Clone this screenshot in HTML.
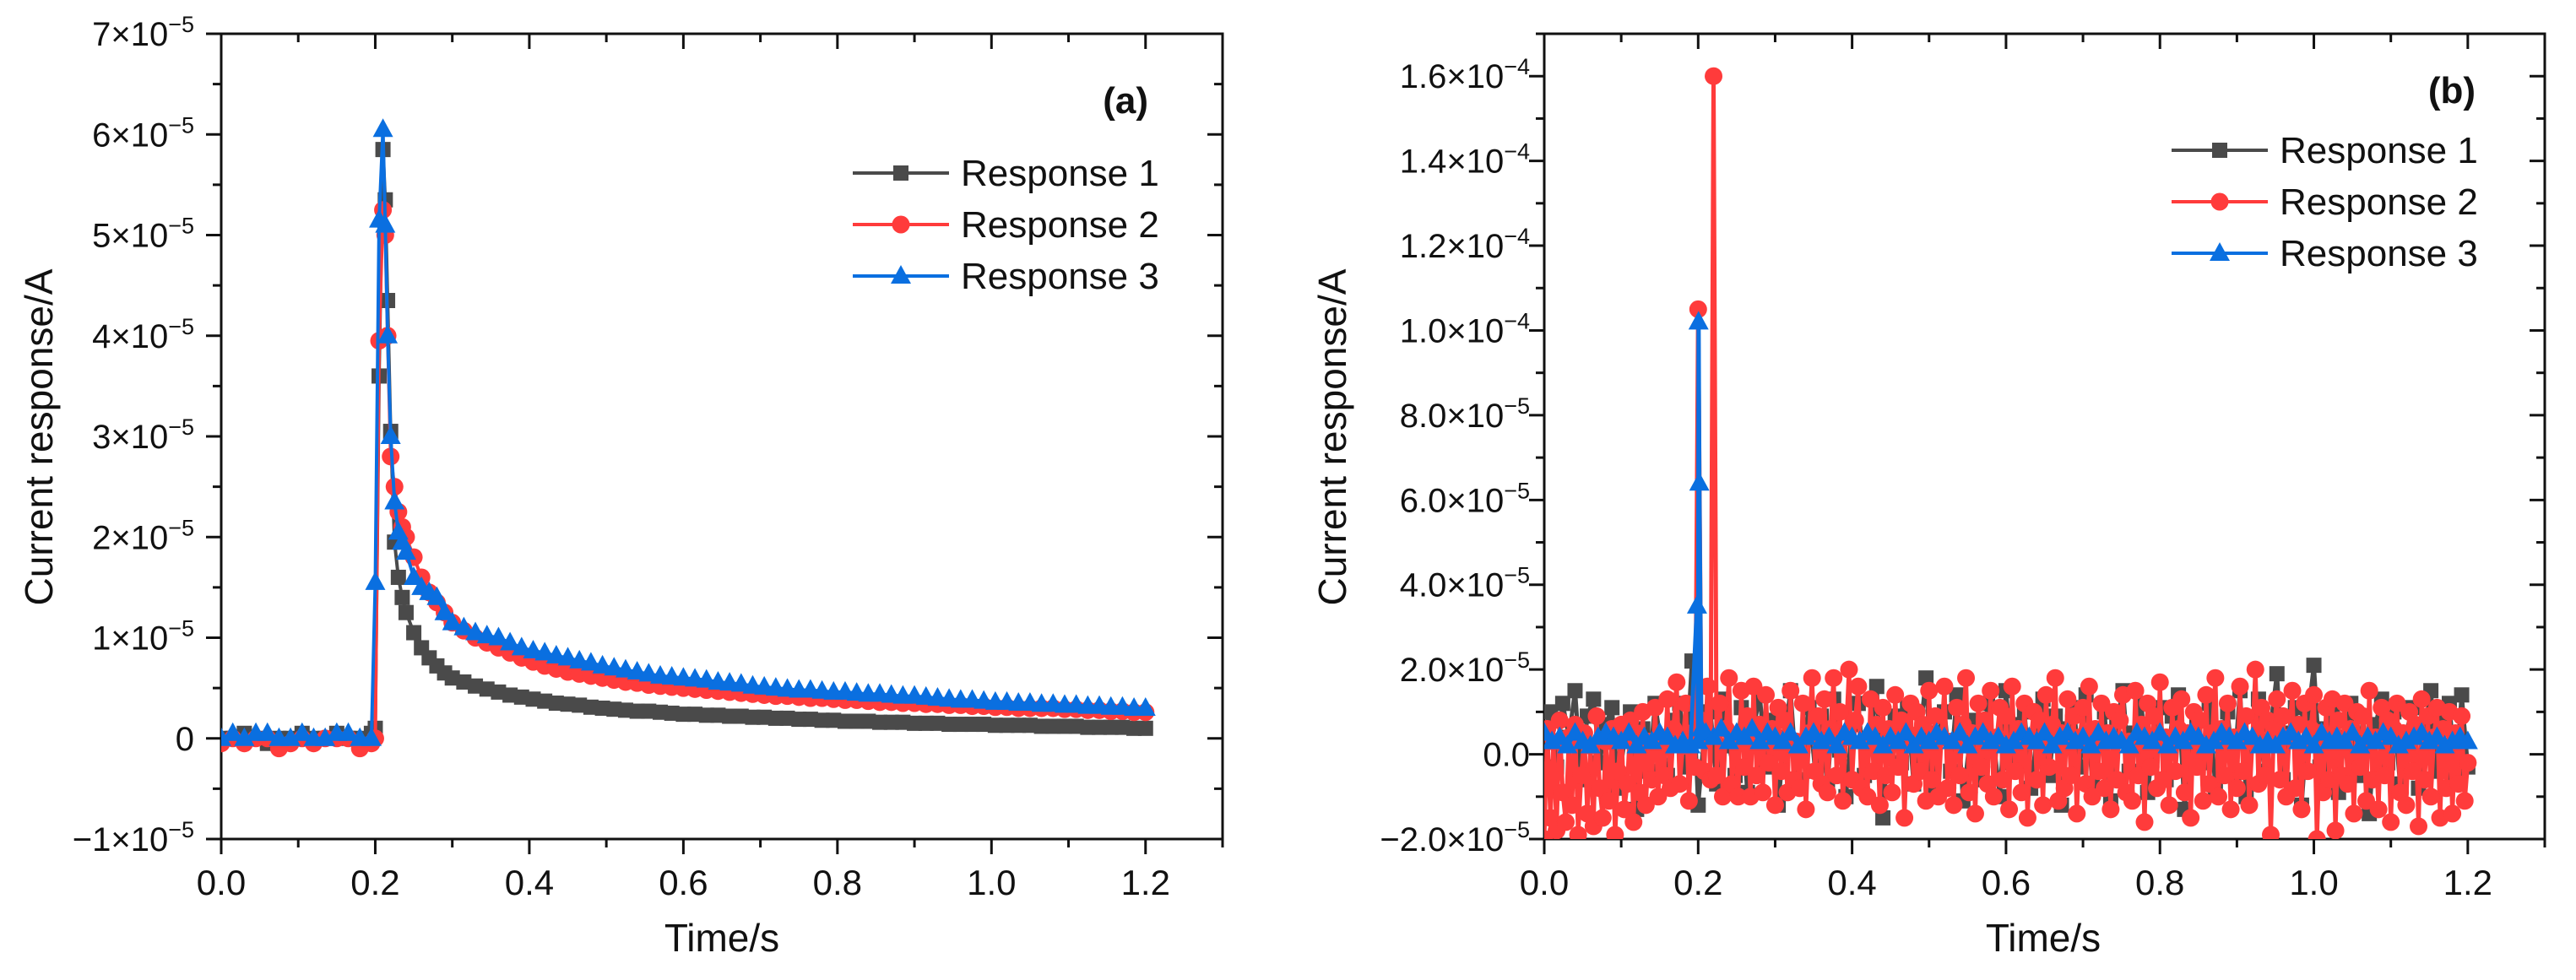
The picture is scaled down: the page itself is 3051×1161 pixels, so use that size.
<!DOCTYPE html>
<html><head><meta charset="utf-8"><style>
html,body{margin:0;padding:0;background:#fff;}
svg{display:block;font-family:"Liberation Sans",Arial,sans-serif;}
</style></head>
<body>
<svg id="fig" width="3051" height="1161" viewBox="0 0 3051 1161" xmlns="http://www.w3.org/2000/svg"></svg>
<script>
// ===== Panel (a) data (units 1e-5 A) =====
const timeA = [0,0.015,0.03,0.045,0.06,0.075,0.09,0.105,0.12,0.135,0.15,0.165,0.18,0.195,0.2,0.205,0.21,0.213,0.216,0.22,0.225,0.23,0.235,0.24,0.25,0.26,0.27,0.28,0.29,0.3,
0.315,0.33,0.345,0.36,0.375,0.39,0.405,0.42,0.435,0.45,0.465,0.48,0.495,0.51,0.525,0.54,0.555,0.57,0.585,0.6,0.615,0.63,0.645,0.66,0.675,0.69,0.705,0.72,0.735,0.75,
0.765,0.78,0.795,0.81,0.825,0.84,0.855,0.87,0.885,0.9,0.915,0.93,0.945,0.96,0.975,0.99,1.005,1.02,1.035,1.05,1.065,1.08,1.095,1.11,1.125,1.14,1.155,1.17,1.185,1.2];
const respA1 = [0,0,0.05,0,-0.05,0,0,0.05,0,0,0.05,0,0,0.05,0.1,3.6,5.85,5.35,4.35,3.05,1.95,1.6,1.4,1.25,1.05,0.9,0.8,0.72,0.65,0.6,
0.56,0.52,0.49,0.46,0.43,0.41,0.39,0.37,0.35,0.34,0.33,0.31,0.3,0.29,0.28,0.27,0.27,0.26,0.25,0.24,0.24,0.23,0.23,0.22,0.22,0.21,0.21,0.2,0.2,0.19,
0.19,0.18,0.18,0.17,0.17,0.17,0.16,0.16,0.16,0.15,0.15,0.15,0.14,0.14,0.14,0.14,0.13,0.13,0.13,0.13,0.12,0.12,0.12,0.12,0.11,0.11,0.11,0.11,0.1,0.1];
const respA2 = [-0.05,0,-0.05,0,0,-0.1,-0.05,0,-0.05,0,0,0,-0.1,-0.05,0,3.95,5.25,5.0,4.0,2.8,2.5,2.25,2.1,2.0,1.8,1.6,1.45,1.35,1.25,1.15,
1.07,1.0,0.95,0.9,0.85,0.8,0.76,0.72,0.69,0.66,0.64,0.62,0.6,0.58,0.56,0.55,0.53,0.52,0.51,0.5,0.49,0.48,0.47,0.46,0.45,0.44,0.43,0.42,0.42,0.41,
0.4,0.4,0.39,0.38,0.38,0.37,0.36,0.36,0.35,0.35,0.34,0.34,0.33,0.33,0.32,0.32,0.31,0.31,0.3,0.3,0.3,0.3,0.29,0.29,0.28,0.28,0.27,0.27,0.26,0.26];
const respA3 = [0,0.05,0,0.05,0.05,0,0,0.05,0,0,0.05,0.05,0,0,1.55,5.15,6.05,5.1,4.0,3.0,2.35,2.05,1.95,1.85,1.6,1.5,1.45,1.4,1.25,1.15,
1.1,1.05,1.02,1.0,0.95,0.9,0.87,0.85,0.82,0.8,0.77,0.75,0.72,0.7,0.68,0.66,0.64,0.62,0.61,0.6,0.59,0.58,0.56,0.55,0.54,0.52,0.51,0.5,0.49,0.48,
0.48,0.47,0.46,0.46,0.45,0.44,0.44,0.43,0.42,0.42,0.41,0.4,0.39,0.38,0.38,0.37,0.36,0.36,0.35,0.35,0.34,0.34,0.33,0.33,0.32,0.32,0.31,0.31,0.3,0.3];
const yTicksA = [-1,0,1,2,3,4,5,6,7];
const yTickLabelsA = ["\u22121\u00d710","0","1\u00d710","2\u00d710","3\u00d710","4\u00d710","5\u00d710","6\u00d710","7\u00d710"];
const xTicks = [0,0.2,0.4,0.6,0.8,1.0,1.2];
const xTickLabels = ["0.0","0.2","0.4","0.6","0.8","1.0","1.2"];

// ===== Panel (b) data (units 1e-5 A) =====
const stepB1 = 0.008, stepB2 = 0.004, stepB3 = 0.01;
const respB1 = [0.5,1.0,-0.3,1.2,0.4,1.5,-0.6,0.9,1.3,-0.2,
0.7,1.1,-0.8,0.3,1.0,-1.3,0.6,-0.4,1.2,0.2,
-0.5,0.8,1.2,-0.3,2.2,-1.2,0.5,1.0,-0.7,1.3,
0.2,-0.5,1.1,-0.9,0.6,1.4,-0.3,0.8,-1.2,0.4,
1.5,-0.6,0.2,1.1,-0.4,0.9,-0.8,1.3,0.1,-1.0,
0.7,1.2,-0.5,0.3,1.6,-1.5,0.6,0.9,-0.2,1.1,
-0.7,0.4,1.8,-0.9,0.5,1.0,-0.4,1.4,-1.1,0.2,
0.8,-0.6,1.2,0.3,-1.0,1.5,-0.2,0.7,1.0,-0.8,
0.4,1.3,-0.5,0.9,-1.2,0.6,1.1,-0.3,1.4,-0.7,
0.2,1.0,-1.1,0.8,1.5,-0.4,0.5,1.2,-0.9,0.3,
1.1,-0.6,0.9,1.4,-1.3,0.4,0.8,-0.2,1.2,-0.8,
0.6,1.0,-0.5,1.5,-1.0,0.3,1.3,-0.4,0.7,1.9,
-0.6,0.5,1.1,-1.2,0.8,2.1,-0.3,0.6,1.0,-0.9,
0.4,1.2,-0.5,0.9,-1.4,0.7,1.3,-0.2,1.0,-0.7,
0.5,1.1,-0.8,0.6,1.5,-0.4,0.8,1.2,-0.6,1.4,
-0.3];
const respB2 = [-2.0,0.6,-1.5,0.3,-1.8,0.8,-0.9,-1.6,0.4,-1.2,
0.7,-1.9,-0.5,0.5,-1.4,0.2,-1.7,0.9,-0.8,-1.5,
0.3,-1.1,0.6,-1.9,-0.4,0.7,-1.3,-0.7,0.8,-1.6,
0.5,-0.9,1.0,-1.2,0.3,-0.6,1.1,-1.0,0.4,-0.5,
1.3,-0.8,0.6,1.7,-0.7,0.2,1.2,-1.1,0.5,-0.3,
10.5,0.8,-0.4,1.6,-0.6,16.0,-0.5,1.2,-1.0,0.6,
1.8,-0.7,0.4,-1.0,1.5,-0.3,0.9,-1.0,1.6,-0.5,
0.7,-0.9,1.4,-0.2,0.6,-1.2,1.1,-0.4,0.8,-0.9,
1.5,-0.6,0.3,-0.8,1.2,-1.3,0.5,1.8,-0.4,0.9,
-0.7,1.3,-0.9,0.6,1.8,-0.5,1.0,-1.1,0.4,2.0,
-0.6,0.8,1.6,-0.8,0.3,-1.0,1.3,-0.4,0.7,-1.2,
1.1,-0.5,0.6,-0.9,1.4,-0.3,0.8,-1.5,0.5,1.2,
-0.7,1.0,-0.4,0.7,-1.1,1.5,-0.6,0.9,-1.0,0.4,
1.6,-0.8,0.3,-1.2,1.1,-0.5,0.7,1.8,-0.9,0.5,
-1.4,1.2,-0.3,0.8,-0.7,1.5,-1.0,0.4,1.1,-0.6,
0.9,-1.3,1.6,-0.4,0.6,-0.9,1.2,-1.5,0.3,1.0,
-0.6,0.8,-1.2,1.4,-0.3,0.7,1.8,-1.1,0.5,-0.8,
1.3,-0.5,0.9,-1.4,0.4,1.1,-0.7,1.6,-1.0,0.6,
-0.4,1.2,-0.8,0.5,-1.3,1.0,-0.6,0.8,1.4,-0.9,
0.3,-1.1,1.5,-0.5,0.7,-1.6,1.2,-0.3,0.9,-0.8,
1.7,-0.6,0.4,-1.2,1.1,-0.4,0.6,1.3,-0.9,0.5,
-1.5,1.0,-0.3,0.8,-1.1,1.4,-0.7,0.5,1.8,-1.0,
0.6,-0.5,1.2,-1.3,0.4,-0.8,1.6,-0.4,0.9,-1.2,
0.3,2.0,-0.7,1.1,-0.5,0.8,-1.9,0.6,1.3,-0.6,
0.9,-1.0,0.4,1.5,-0.8,0.7,-1.3,1.2,-0.4,0.6,
1.4,-2.0,0.5,-0.9,1.1,-0.6,1.3,-1.8,0.8,-0.5,
1.2,-0.7,0.6,-1.4,1.0,-0.3,0.9,-1.1,1.5,-0.6,
0.4,-1.3,1.1,-0.5,0.8,-1.6,0.6,1.2,-0.9,0.5,
-1.2,1.0,-0.4,0.7,-1.7,1.3,-0.6,0.9,-1.0,0.4,
1.1,-1.5,0.6,-0.8,1.0,-1.4,0.5,-0.7,0.9,-1.1,
-0.2];
const respB3 = [0.5,0.3,0.4,0.2,0.5,0.3,0.2,0.4,0.5,0.4,
0.3,0.5,0.2,0.4,0.3,0.5,0.4,0.2,0.3,0.2,
0.3,0.5,0.4,0.6,0.3,0.5,0.4,0.6,0.3,0.5,
0.4,0.3,0.5,0.2,0.4,0.5,0.3,0.4,0.2,0.5,
0.4,0.3,0.5,0.4,0.2,0.4,0.3,0.5,0.2,0.4,
0.3,0.5,0.4,0.3,0.5,0.2,0.4,0.5,0.3,0.4,
0.2,0.3,0.5,0.4,0.3,0.5,0.2,0.4,0.5,0.3,
0.4,0.2,0.5,0.3,0.4,0.3,0.2,0.5,0.4,0.3,
0.5,0.2,0.4,0.3,0.5,0.4,0.2,0.3,0.5,0.4,
0.3,0.5,0.4,0.2,0.3,0.2,0.4,0.5,0.3,0.4,
0.2,0.5,0.3,0.4,0.3,0.5,0.2,0.4,0.3,0.5,
0.4,0.2,0.3,0.4,0.5,0.3,0.4,0.2,0.3,0.4,
0.3];
const spikeB3Time = [0.1985,0.2005,0.2015,0.204];
const spikeB3Val = [3.5,10.2,6.4,0.6];
const yTicksB = [-2,0,2,4,6,8,10,12,14,16];
const yTickLabelsB = ["\u22122.0\u00d710","0.0","2.0\u00d710","4.0\u00d710","6.0\u00d710","8.0\u00d710","1.0\u00d710","1.2\u00d710","1.4\u00d710","1.6\u00d710"];
const yTickExpB = ["\u22125","","\u22125","\u22125","\u22125","\u22125","\u22124","\u22124","\u22124","\u22124"];

const NS = "http://www.w3.org/2000/svg";
const svg = document.getElementById("fig");
function mk(tag, attrs, parent){const e=document.createElementNS(NS,tag);for(const k in attrs)e.setAttribute(k,attrs[k]);(parent||svg).appendChild(e);return e;}

const COLORS = ["#4a4a4a","#ff3b3b","#0a6fe0"];

function makeAxes(L,R,T,B,xmax,ymin,ymax){
  const sx = v => L + v/xmax*(R-L);
  const sy = v => B - (v-ymin)/(ymax-ymin)*(B-T);
  return {sx,sy};
}

function marker(g,type,x,y,color,name){
  let e;
  if(type===0){e=mk("rect",{x:x-9,y:y-9,width:18,height:18,fill:color},g);}
  else if(type===1){e=mk("circle",{cx:x,cy:y,r:10.5,fill:color},g);}
  else {e=mk("polygon",{points:`${x},${y-13} ${x+12},${y+9} ${x-12},${y+9}`,fill:color},g);}
  
  
}

function drawFrame(p, L,R,T,B, ax, xmax, yMajors, yMinorStep, ymin, ymax){
  const g = mk("g",{});
  
  
  mk("rect",{x:L,y:T,width:R-L,height:B-T,fill:"none",stroke:"#111",'stroke-width':3},g);
  for(let v=0; v<=xmax+1e-9; v+=0.1){
    const x=ax.sx(v); const major = Math.abs(v/0.2-Math.round(v/0.2))<1e-6;
    const len = major?18:10;
    mk("line",{x1:x,y1:B,x2:x,y2:B+len,stroke:"#111",'stroke-width':3},g);
    mk("line",{x1:x,y1:T,x2:x,y2:T+len,stroke:"#111",'stroke-width':3},g);
  }
  for(let v=ymin; v<=ymax+1e-9; v+=yMinorStep){
    const y=ax.sy(v); const major = yMajors.some(m=>Math.abs(m-v)<1e-6);
    const len = major?18:10;
    mk("line",{x1:L-len,y1:y,x2:L,y2:y,stroke:"#111",'stroke-width':3},g);
    mk("line",{x1:R-len,y1:y,x2:R,y2:y,stroke:"#111",'stroke-width':3},g);
  }
  xTicks.forEach((v,i)=>{
    const t=mk("text",{x:ax.sx(v),y:1060,'font-size':42,'text-anchor':'middle',fill:"#111"},g);
    t.textContent=xTickLabels[i];
    
    
  });
  return g;
}

function drawSeries(p,times,vals,type,ax,markEvery,name,clipId,lw){
  const g=mk("g",{'clip-path':`url(#${clipId})`});
  
  
  const pts=times.map((t,i)=>`${ax.sx(t).toFixed(1)},${ax.sy(vals[i]).toFixed(1)}`).join(" ");
  const pl=mk("polyline",{points:pts,fill:"none",stroke:COLORS[type],'stroke-width':lw||4,'stroke-linejoin':'round'},g);
  
  
  times.forEach((t,i)=>{ if(i%markEvery===0) marker(g,type,ax.sx(t),ax.sy(vals[i]),COLORS[type],name+'-point'); });
}

function legend(p,x0,ys){
  const names=["Response 1","Response 2","Response 3"];
  const g=mk("g",{});
  
  
  names.forEach((n,i)=>{
    const e=mk("g",{},g);
    
    
    mk("line",{x1:x0,y1:ys[i],x2:x0+114,y2:ys[i],stroke:COLORS[i],'stroke-width':4},e);
    marker(e,i,x0+57,ys[i],COLORS[i],p+'-legend-marker');
    const t=mk("text",{x:x0+128,y:ys[i]+15,'font-size':44,fill:"#111"},e);
    t.textContent=n;
  });
}

const defs=mk("defs",{});
// Panel A
{
  const L=262,R=1448,T=40,B=994, xmax=1.3, ymin=-1, ymax=7;
  mk("rect",{x:L,y:T,width:R-L,height:B-T},mk("clipPath",{id:"clipA"},defs));
  const ax=makeAxes(L,R,T,B,xmax,ymin,ymax);
  drawFrame("panel-a",L,R,T,B,ax,xmax,yTicksA,0.5,ymin,ymax);
  yTicksA.forEach((v,i)=>{
    const t=mk("text",{x:230,y:ax.sy(v)+14,'font-size':40,'text-anchor':'end',fill:"#111"});
    
    
    if(v===0){t.textContent="0";}
    else{ t.textContent=yTickLabelsA[i]; const s=mk("tspan",{dy:-16,'font-size':27},t); s.textContent="\u22125"; }
  });
  drawSeries("a",timeA,respA1,0,ax,1,"panel-a-response-1","clipA");
  drawSeries("a",timeA,respA2,1,ax,1,"panel-a-response-2","clipA");
  drawSeries("a",timeA,respA3,2,ax,1,"panel-a-response-3","clipA");
  legend("panel-a",1010,[205,266,327]);
  const lab=mk("text",{x:1360,y:134,'font-size':44,'font-weight':'bold','text-anchor':'end',fill:"#111"});
  lab.textContent="(a)";  
  const yl=mk("text",{x:0,y:0,'font-size':46,'text-anchor':'middle',fill:"#111",transform:"translate(62,518) rotate(-90)"});
  yl.textContent="Current response/A";  
  const xl=mk("text",{x:855,y:1127,'font-size':46,'text-anchor':'middle',fill:"#111"});
  xl.textContent="Time/s";  
}
// Panel B
{
  const L=1829,R=3014,T=40,B=994, xmax=1.3, ymin=-2, ymax=17;
  mk("rect",{x:L,y:T,width:R-L,height:B-T},mk("clipPath",{id:"clipB"},defs));
  const ax=makeAxes(L,R,T,B,xmax,ymin,ymax);
  drawFrame("panel-b",L,R,T,B,ax,xmax,yTicksB,1,ymin,ymax);
  yTicksB.forEach((v,i)=>{
    const t=mk("text",{x:1812,y:ax.sy(v)+14,'font-size':40,'text-anchor':'end',fill:"#111"});
    
    
    t.textContent=yTickLabelsB[i];
    if(yTickExpB[i]){const s=mk("tspan",{dy:-16,'font-size':27},t); s.textContent=yTickExpB[i];}
  });
  const tB1=respB1.map((_,i)=>i*stepB1);
  const tB2=respB2.map((_,i)=>i*stepB2);
  let pairs=respB3.map((v,i)=>[i*stepB3,v]);
  spikeB3Time.forEach((t,i)=>pairs.push([t,spikeB3Val[i]]));
  pairs.sort((a,b)=>a[0]-b[0]);
  drawSeries("b",tB1,respB1,0,ax,1,"panel-b-response-1","clipB",5);
  drawSeries("b",tB2,respB2,1,ax,1,"panel-b-response-2","clipB",5);
  drawSeries("b",pairs.map(p=>p[0]),pairs.map(p=>p[1]),2,ax,1,"panel-b-response-3","clipB",5);
  legend("panel-b",2572,[178,239,300]);
  const lab=mk("text",{x:2932,y:122,'font-size':44,'font-weight':'bold','text-anchor':'end',fill:"#111"});
  lab.textContent="(b)";  
  const yl=mk("text",{x:0,y:0,'font-size':46,'text-anchor':'middle',fill:"#111",transform:"translate(1594,518) rotate(-90)"});
  yl.textContent="Current response/A";  
  const xl=mk("text",{x:2420,y:1127,'font-size':46,'text-anchor':'middle',fill:"#111"});
  xl.textContent="Time/s";  
}
</script>
</body></html>
